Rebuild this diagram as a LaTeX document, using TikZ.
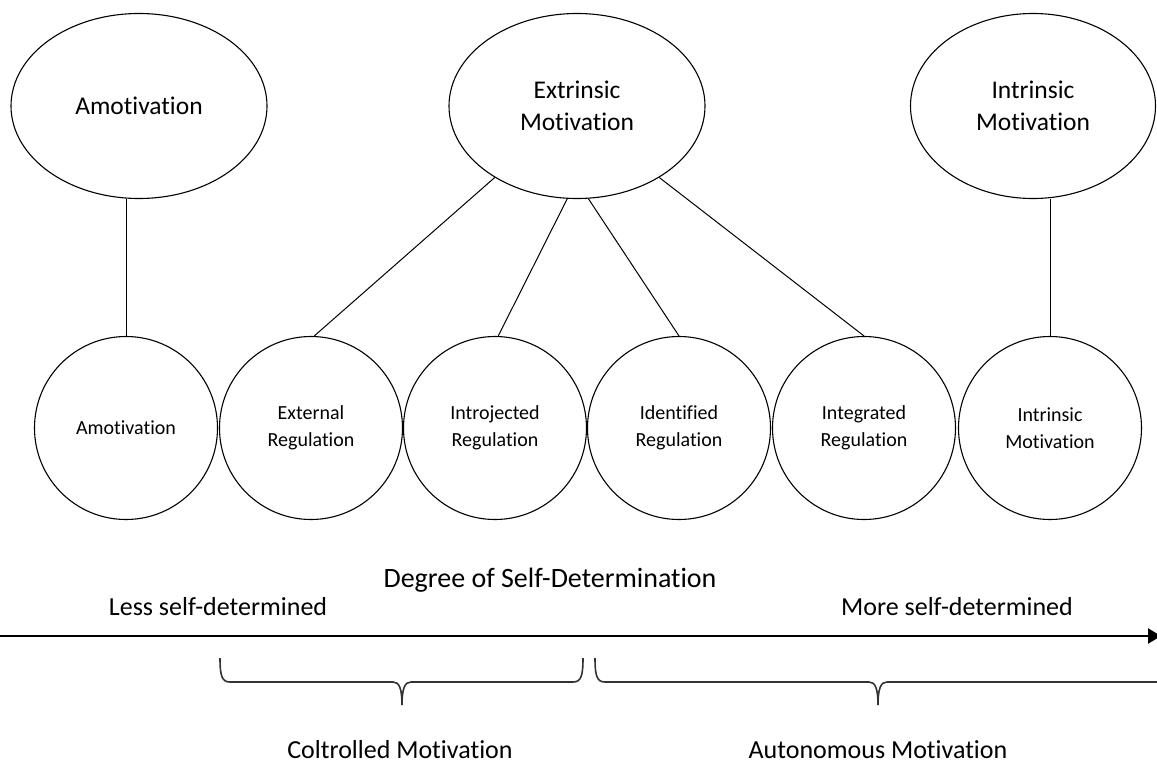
\documentclass[tikz,border=0pt]{standalone}
\usepackage{fontspec}
\setmainfont{Carlito}[Ligatures=NoCommon]
\usetikzlibrary{shapes.geometric,arrows.meta}
\begin{document}
\begin{tikzpicture}[x=1pt,y=-1pt,
  bigell/.style={draw, ellipse, line width=1.1pt, inner sep=0pt, minimum width=256pt, minimum height=185pt, font=\fontsize{25.5}{32}\selectfont, align=center},
  circ/.style={draw, circle, line width=1.1pt, inner sep=0pt, minimum size=183pt, font=\fontsize{20}{27}\selectfont, align=center},
  link/.style={line width=1pt},
  lbl/.style={font=\fontsize{26}{30}\selectfont, inner sep=0pt},
  brace/.style={line width=1.6pt, draw=black!80},
  axis/.style={line width=2.4pt, -{Triangle[length=13pt,width=15pt]}}]
\useasboundingbox (0,0) rectangle (1157,771);

% top ellipses
\node[bigell] (amo) at (139,106) {Amotivation};
\node[bigell] (ext) at (577,106) {Extrinsic\\Motivation};
\node[bigell, minimum width=245pt] (intr) at (1033,106) {Intrinsic\\Motivation};

% bottom circles
\node[circ] (c1) at (126,428) {Amotivation};
\node[circ] (c2) at (311,428) {External\\Regulation};
\node[circ] (c3) at (495,428) {Introjected\\Regulation};
\node[circ] (c4) at (679,428) {Identified\\Regulation};
\node[circ] (c5) at (864,428) {Integrated\\Regulation};
\node[circ] (c6) at (1050,428) {Intrinsic\\Motivation};

% connectors
\draw[link] (amo.south -| c1.north) -- (c1.north);
\draw[link] (ext.-139) -- (c2.88);
\draw[link] (ext.-96) -- (c3.88);
\draw[link] (ext.-83) -- (c4.north);
\draw[link] (ext.-41) -- (c5.north);
\draw[link] (intr.south -| c6.north) -- (c6.north);

% axis
\coordinate (as) at (0,636);
\coordinate (ae) at (1161,636);
\draw[axis] (as) -- (ae);

% labels
\node[lbl, font=\fontsize{28}{32}\selectfont] (deg) at (550,580) {Degree of Self-Determination};
\node[lbl] (less) at (218,607) {Less self-determined};
\node[lbl] (more) at (957,607) {More self-determined};
\node[lbl] (ctrl) at (400,750) {Coltrolled Motivation};
\node[lbl] (auto) at (878,750) {Autonomous Motivation};

% braces
\draw[brace] (220,658) .. controls (220,676) and (222,682) .. (230,682) -- (393,682)
  .. controls (399,682) and (402,688) .. (402,705)
  .. controls (402,688) and (405,682) .. (411,682) -- (573,682)
  .. controls (581,682) and (583,676) .. (583,658);
\draw[brace] (595,658) .. controls (595,676) and (597,682) .. (605,682) -- (869,682)
  .. controls (875,682) and (878,688) .. (878,705)
  .. controls (878,688) and (881,682) .. (887,682) -- (1170,682);
\end{tikzpicture}
\end{document}
